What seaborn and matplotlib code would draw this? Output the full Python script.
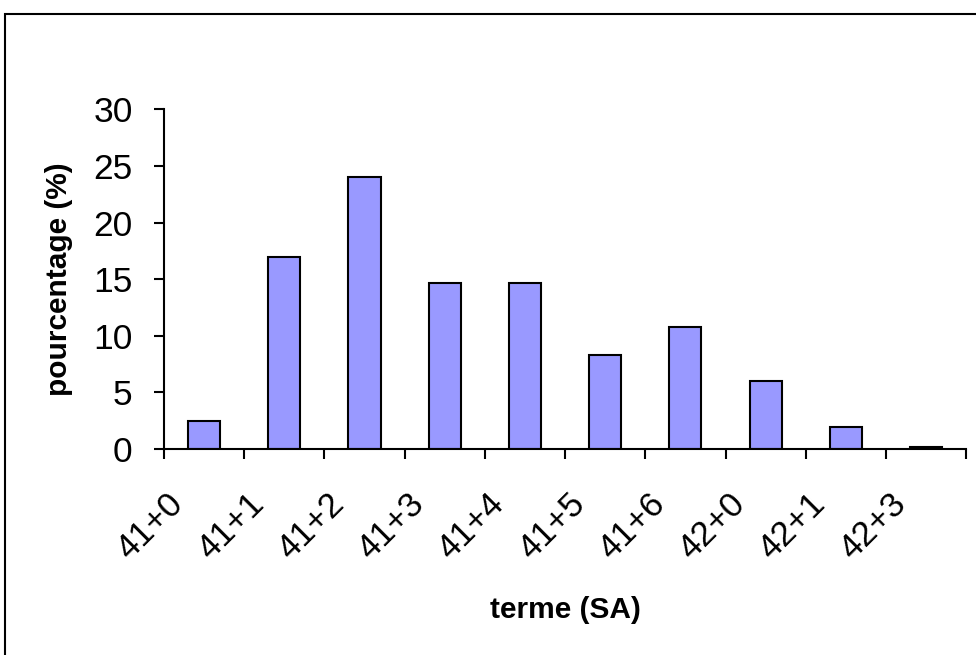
import numpy as np
import pandas as pd
import matplotlib
matplotlib.use("Agg")
import matplotlib.pyplot as plt
import matplotlib.transforms as mtransforms
from matplotlib.patches import Rectangle
import seaborn as sns

# Data
termes = ["41+0", "41+1", "41+2", "41+3", "41+4", "41+5", "41+6", "42+0", "42+1", "42+3"]
pourcentages = [2.5, 17.0, 24.0, 14.7, 14.7, 8.3, 10.8, 6.0, 1.9, 0.2]
yticks = [0, 5, 10, 15, 20, 25, 30]

df = pd.DataFrame({"terme": termes, "pourcentage": pourcentages})

sns.set_style("ticks")
plt.rcParams["font.family"] = ["Liberation Sans", "DejaVu Sans"]
plt.rcParams["text.color"] = "black"
plt.rcParams["xtick.color"] = "black"
plt.rcParams["ytick.color"] = "black"
plt.rcParams["axes.labelcolor"] = "black"

fig = plt.figure(figsize=(9.76, 6.55), dpi=100)
ax = fig.add_axes([0.168, 0.3145, 0.822, 0.5186])

sns.barplot(
    data=df, x="terme", y="pourcentage", ax=ax,
    color="#9999FF", saturation=1, width=0.4,
    edgecolor="black", linewidth=1.5,
)

ax.set_xlim(-0.5, len(termes) - 0.5)
ax.set_ylim(0, 30)
ax.set_yticks(yticks)
ax.set_yticklabels([str(v) for v in yticks], fontsize=25.5)

# ticks on the category boundaries, labels at the centres
ax.set_xticks(np.arange(len(termes)))
ax.set_xticks(np.arange(len(termes) + 1) - 0.5, minor=True)
ax.tick_params(axis="x", which="major", length=0, pad=27.5)
ax.tick_params(axis="x", which="minor", length=7.5, width=1.5, color="black")
ax.tick_params(axis="y", length=7.5, width=1.5, color="black", pad=15)
ax.set_xticklabels(termes, rotation=45, ha="right", fontsize=25)
offset = mtransforms.ScaledTranslation(-14 / 100, 0, fig.dpi_scale_trans)
for lab in ax.get_xticklabels():
    lab.set_transform(lab.get_transform() + offset)

for side in ["top", "right"]:
    ax.spines[side].set_visible(False)
for side in ["left", "bottom"]:
    ax.spines[side].set_linewidth(1.5)
    ax.spines[side].set_color("black")

ax.set_xlabel("terme (SA)", fontsize=21.5, fontweight="bold")
ax.set_ylabel("pourcentage (%)", fontsize=21.5, fontweight="bold")
ax.xaxis.set_label_coords(0.5, -0.433)
ax.yaxis.set_label_coords(-0.1134, 0.5)

# outer chart frame, running off the right and bottom edges
fig.patches.append(Rectangle((5 / 976, -0.1), 1.2, 1.0786,
                             transform=fig.transFigure, fill=False,
                             edgecolor="black", linewidth=1.5))

fig.savefig("out.png", dpi=100)
